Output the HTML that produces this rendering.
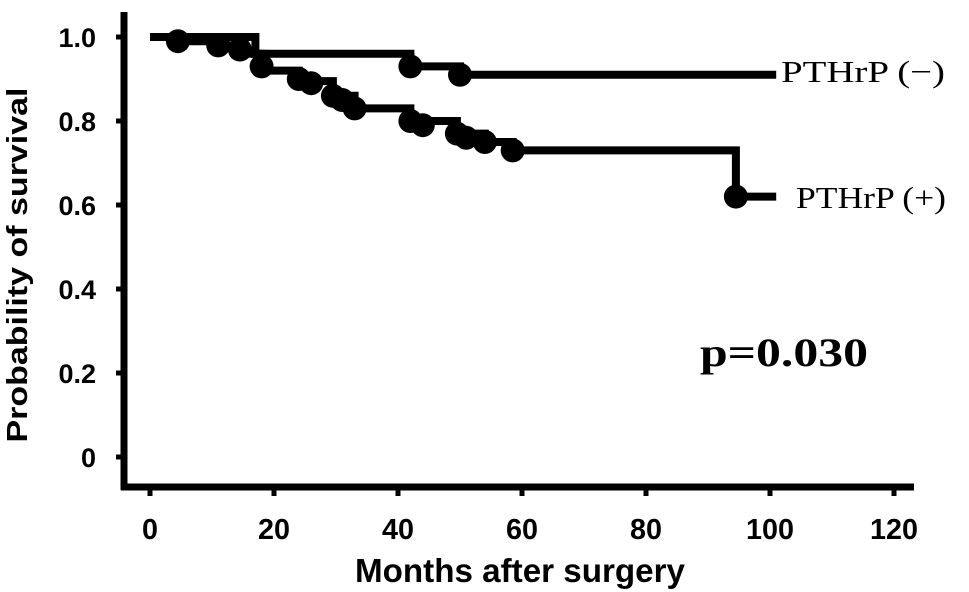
<!DOCTYPE html>
<html><head><meta charset="utf-8"><style>
body{margin:0;background:#fff;width:969px;height:592px;overflow:hidden}
svg{display:block}
</style></head><body>
<svg id="chart" width="969" height="592"></svg>
<script>
const xTicks=[0,20,40,60,80,100,120];
const yTicks=[0,0.2,0.4,0.6,0.8,1.0];
const yTickLabels=["0","0.2","0.4","0.6","0.8","1.0"];
const negTimes=[0,17,42,50,101];
const negSurv=[1.0,0.96,0.93,0.91,0.91];
const negCensorT=[42,50];
const negCensorS=[0.93,0.91];
const posTimes=[0,4.5,11,14.5,18,24,29.5,33,42,49.5,54,58.5,94.5,101];
const posSurv=[1.0,0.99,0.98,0.96,0.92,0.895,0.86,0.83,0.80,0.77,0.75,0.73,0.62,0.62];
const posCensorT=[4.5,11,14.5,18,24,26,29.5,31,33,42,44,49.5,51,54,58.5,94.5];
const posCensorS=[0.99,0.98,0.97,0.93,0.90,0.89,0.86,0.85,0.83,0.80,0.79,0.77,0.76,0.75,0.73,0.62];

const NS="http://www.w3.org/2000/svg";
const svg=document.getElementById('chart');
const X=t=>150+t*6.2;
const Y=v=>457-v*420;
function mk(tag,attrs,parent){const e=document.createElementNS(NS,tag);for(const k in attrs)e.setAttribute(k,attrs[k]);(parent||svg).appendChild(e);return e;}
let ax=mk('line',{x1:124,y1:12,x2:124,y2:490,stroke:'#000','stroke-width':7});


ax=mk('line',{x1:121,y1:487,x2:914,y2:487,stroke:'#000','stroke-width':7});


xTicks.forEach(t=>{
  let tk=mk('line',{x1:X(t),y1:487,x2:X(t),y2:496,stroke:'#000','stroke-width':5});
  
  
  let s=String(t);
  let tx=mk('text',{x:X(t),y:539,'text-anchor':'middle','font-family':'Liberation Sans, sans-serif','font-weight':'bold','font-size':29,textLength:s.length*16,lengthAdjust:'spacingAndGlyphs'});
  tx.textContent=s;
  
  
});
yTicks.forEach((v,i)=>{
  let tk=mk('line',{x1:116,y1:Y(v),x2:124,y2:Y(v),stroke:'#000','stroke-width':5});
  
  
  let tx=mk('text',{x:96,y:Y(v)+10,'text-anchor':'end','font-family':'Liberation Sans, sans-serif','font-weight':'bold','font-size':27});
  tx.textContent=yTickLabels[i];
  
  
});
let t=mk('text',{x:520,y:582,'text-anchor':'middle','font-family':'Liberation Sans, sans-serif','font-weight':'bold','font-size':33,textLength:330,lengthAdjust:'spacingAndGlyphs'});
t.textContent='Months after surgery';


t=mk('text',{x:0,y:0,transform:'translate(27,265) rotate(-90)','text-anchor':'middle','font-family':'Liberation Sans, sans-serif','font-weight':'bold','font-size':29,textLength:355,lengthAdjust:'spacingAndGlyphs'});
t.textContent='Probability of survival';


function stepPath(ts,ss){let d=`M${X(ts[0])},${Y(ss[0])}`;for(let i=1;i<ts.length;i++){d+=` H${X(ts[i])} V${Y(ss[i])}`;}return d;}
let p=mk('path',{d:stepPath(negTimes,negSurv),fill:'none',stroke:'#000','stroke-width':8});


p=mk('path',{d:stepPath(posTimes,posSurv),fill:'none',stroke:'#000','stroke-width':8});


negCensorT.forEach((c,i)=>{let m=mk('circle',{cx:X(c),cy:Y(negCensorS[i]),r:12,fill:'#000'});
  
  });
posCensorT.forEach((c,i)=>{let m=mk('circle',{cx:X(c),cy:Y(posCensorS[i]),r:12,fill:'#000'});
  
  });
t=mk('text',{x:781,y:82,'font-family':'Liberation Serif, serif','font-size':31,textLength:164,lengthAdjust:'spacingAndGlyphs'});
t.textContent='PTHrP (−)';


t=mk('text',{x:796,y:208,'font-family':'Liberation Serif, serif','font-size':31,textLength:150,lengthAdjust:'spacingAndGlyphs'});
t.textContent='PTHrP (+)';


t=mk('text',{x:700,y:366,'font-family':'Liberation Serif, serif','font-weight':'bold','font-size':40,textLength:168,lengthAdjust:'spacingAndGlyphs'});
t.textContent='p=0.030';


</script>
</body></html>
